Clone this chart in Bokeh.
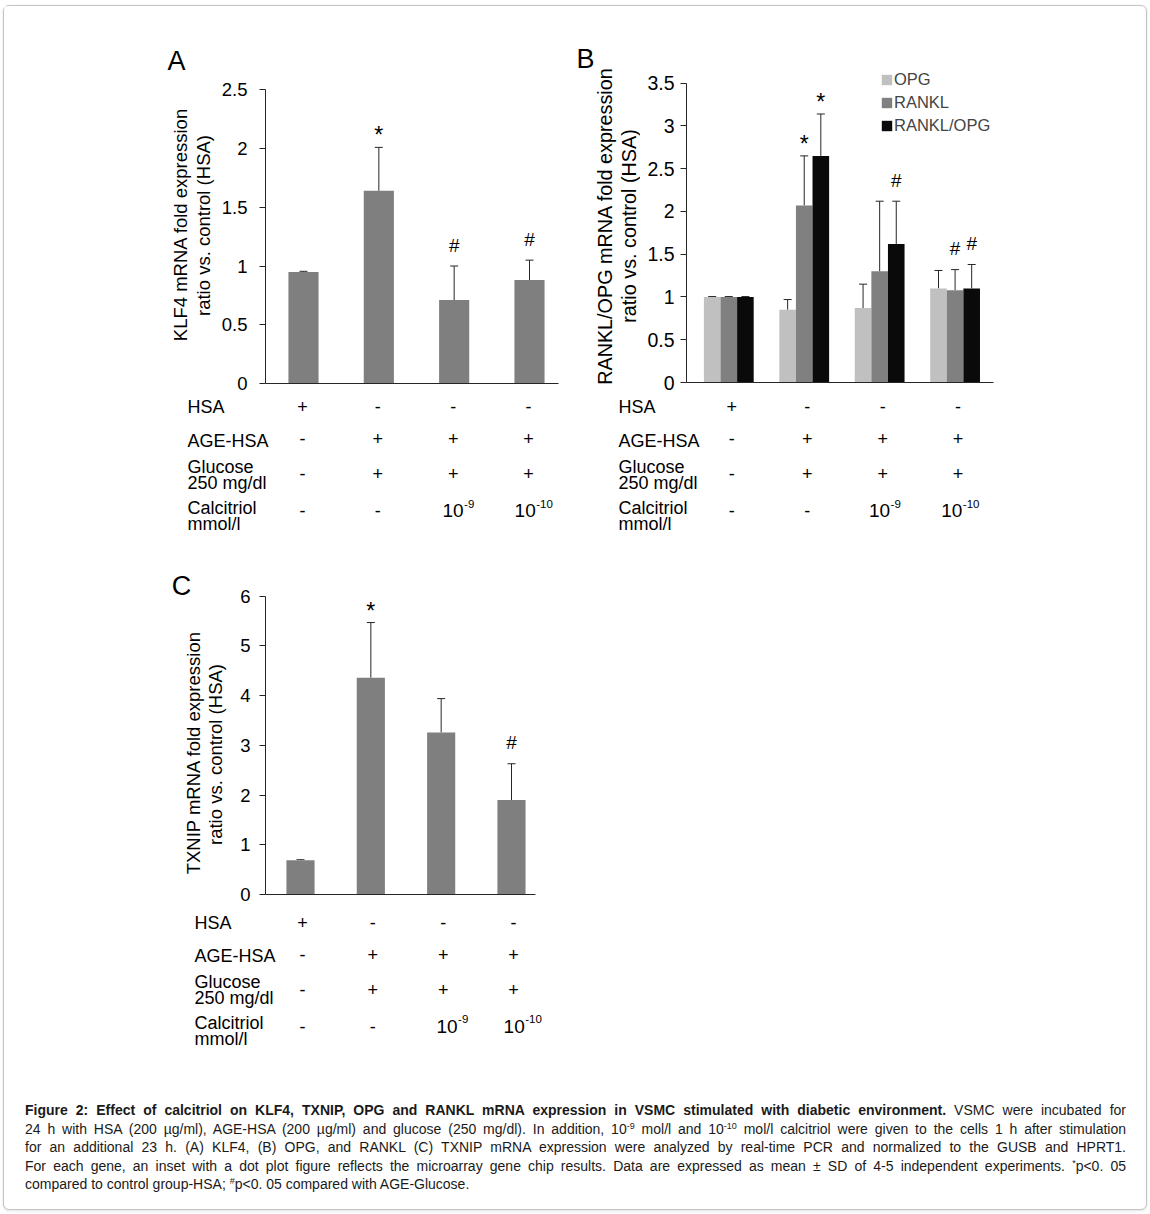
import numpy as np
from bokeh.plotting import figure
from bokeh.models import (ColumnDataSource, Whisker, TeeHead, FixedTicker,
                          CustomJSTickFormatter, Legend, LegendItem, Div, Spacer)
from bokeh.layouts import column, row
from bokeh.embed import file_html
from bokeh.resources import INLINE
from bokeh.core.properties import value

# ---------------- data ----------------
conditions = ["HSA", "AGE-HSA", "Glucose\n250 mg/dl", "Calcitriol\nmmol/l"]
hsa_row = ["+", "-", "-", "-"]
age_row = ["-", "+", "+", "+"]
glucose_row = ["-", "+", "+", "+"]
calcitriol_base = ["-", "-", "10", "10"]
calcitriol_exp = ["", "", "-9", "-10"]

klf4_mean = [0.95, 1.64, 0.71, 0.88]
klf4_sd = [0.005, 0.37, 0.29, 0.17]
klf4_sig = ["", "*", "#", "#"]

series_b = ["OPG", "RANKL", "RANKL/OPG"]
opg_mean = [1.00, 0.85, 0.87, 1.10]
opg_sd = [0.005, 0.12, 0.28, 0.21]
opg_sig = ["", "", "", ""]
rankl_mean = [1.00, 2.07, 1.30, 1.08]
rankl_sd = [0.005, 0.58, 0.82, 0.24]
rankl_sig = ["", "*", "", "#"]
ratio_mean = [1.00, 2.65, 1.62, 1.10]
ratio_sd = [0.005, 0.49, 0.50, 0.28]
ratio_sig = ["", "*", "#", "#"]

txnip_mean = [0.69, 4.36, 3.26, 1.90]
txnip_sd = [0.01, 1.11, 0.68, 0.73]
txnip_sig = ["", "*", "", "#"]

y_ticks_a = [0, 0.5, 1, 1.5, 2, 2.5]
y_ticks_b = [0, 0.5, 1, 1.5, 2, 2.5, 3, 3.5]
y_ticks_c = [0, 1, 2, 3, 4, 5, 6]

ylabel_a = ["KLF4 mRNA fold expression", "ratio vs. control (HSA)"]
ylabel_b = ["RANKL/OPG mRNA fold expression", "ratio vs. control (HSA)"]
ylabel_c = ["TXNIP mRNA fold expression", "ratio vs. control (HSA)"]

# ---------------- style ----------------
FONT = "Liberation Sans"
AXIS_COLOR = "#262626"
ERR_COLOR = "#262626"
BAR_GRAY = "#7f7f7f"
SERIES_COLORS = ["#c0c0c0", "#808080", "#0a0a0a"]
OX, OY = 4, 6   # where the bordered box content starts on the page


def no_align(p):
    if hasattr(p, "frame_align"):
        p.frame_align = False


class Panel:
    """Bar chart whose frame is placed at exact page pixels."""

    def __init__(self, box, frame, c0, step, ytop, ytop_px, ticks, tick_size, standoff):
        left, top, right, bottom = box
        fl, fr, ft, fb = frame
        self.c0, self.step = c0, step
        self.k = (fb - ytop_px) / ytop
        p = figure(width=right - left, height=bottom - top,
                   x_range=((fl - c0) / step, (fr - c0) / step),
                   y_range=(0, (fb - ft) / self.k),
                   output_backend="svg", toolbar_location=None,
                   min_border_left=fl - left, min_border_right=right - fr,
                   min_border_top=ft - top, min_border_bottom=bottom - fb)
        no_align(p)
        p.outline_line_color = None
        p.grid.visible = False
        p.background_fill_color = "white"
        p.border_fill_color = "white"
        ya = p.yaxis[0]
        ya.ticker = FixedTicker(ticks=ticks)
        ya.bounds = (0, ticks[-1])
        ya.formatter = CustomJSTickFormatter(code="return String(tick)")
        ya.major_tick_in = 0
        ya.major_tick_out = 6
        ya.minor_tick_line_color = None
        ya.axis_line_color = AXIS_COLOR
        ya.major_tick_line_color = AXIS_COLOR
        ya.major_label_text_font = FONT
        ya.major_label_text_font_size = f"{tick_size}px"
        ya.major_label_text_color = "black"
        ya.major_label_standoff = standoff
        xa = p.xaxis[0]
        xa.ticker = FixedTicker(ticks=[])
        xa.major_label_text_font_size = "0px"
        xa.major_tick_line_color = None
        xa.minor_tick_line_color = None
        xa.major_tick_out = 0
        xa.major_label_standoff = 0
        xa.axis_line_color = AXIS_COLOR
        self.p = p

    def cx(self, i):
        return self.c0 + i * self.step

    def dy(self, dpx):
        return dpx / self.k

    def bars(self, mean, sd, sig, offset, width, color):
        xs = np.arange(len(mean)) + offset
        upper = np.array(mean) + np.array(sd)
        sig_y = [u + self.dy(12 if s == "*" else 21) for u, s in zip(upper, sig)]
        src = ColumnDataSource(dict(x=xs, top=mean, upper=upper, sig=sig, sig_y=sig_y))
        r = self.p.vbar(x="x", top="top", bottom=0, width=width, source=src,
                        fill_color=color, line_color=None)
        self.p.add_layout(Whisker(source=src, base="x", upper="upper", lower="top",
                                  lower_head=None,
                                  upper_head=TeeHead(size=8, line_color=ERR_COLOR, line_width=1),
                                  line_color=ERR_COLOR, line_width=1))
        stars = [s if s == "*" else "" for s in sig]
        hashes = [s if s == "#" else "" for s in sig]
        src2 = ColumnDataSource(dict(x=xs, y=sig_y, star=stars, hash=hashes))
        self.p.text(x="x", y="y", text="star", source=src2, text_font=value(FONT),
                    text_font_size="23px", text_align="center", text_baseline="middle",
                    text_color="black")
        self.p.text(x="x", y="y", text="hash", source=src2, text_font=value(FONT),
                    text_font_size="19px", text_align="center", text_baseline="middle",
                    text_color="black")
        return r


class TextFig:
    """Axis-less figure whose coordinates are page pixels (y negated)."""

    def __init__(self, left, top, right, bottom):
        p = figure(width=right - left, height=bottom - top,
                   x_range=(left, right), y_range=(-bottom, -top),
                   output_backend="svg", toolbar_location=None,
                   x_axis_location=None, y_axis_location=None, min_border=0)
        no_align(p)
        p.outline_line_color = None
        p.grid.visible = False
        p.background_fill_color = "white"
        p.border_fill_color = "white"
        self.p = p

    def add(self, px, py, text, size, align="left", angle=0.0):
        self.p.text(x=[px], y=[-py], text=[text], angle=angle, text_font=value(FONT),
                    text_font_size=f"{size}px", text_align=align,
                    text_baseline="middle", text_color="black")

    def ylabel(self, lines, xs_px, ys_px, size=18.5):
        for t, xp, yp in zip(lines, xs_px, ys_px):
            self.add(xp, yp, t, size, "center", angle=np.pi / 2)

    def table(self, panel, label_px, base, col_shift, calc_shift):
        lab_off = [[23.5], [57], [83, 99], [124, 140]]
        sym_off = [23, 55, 90, 127]
        sym_rows = [hsa_row, age_row, glucose_row]
        for r, cond in enumerate(conditions):
            for line, off in zip(cond.split("\n"), lab_off[r]):
                self.add(label_px, base + off, line, 18, "left")
        for r, srow in enumerate(sym_rows):
            for i, s in enumerate(srow):
                self.add(panel.cx(i) + col_shift, base + sym_off[r], s, 18, "center")
        yc = base + sym_off[3]
        for i, (b, e) in enumerate(zip(calcitriol_base, calcitriol_exp)):
            if e == "":
                self.add(panel.cx(i) + col_shift, yc, b, 18, "center")
            else:
                w10 = 1.112 * 19
                wsup = (0.333 + 0.556 * (len(e) - 1)) * 11.5
                left = panel.cx(i) - (w10 + wsup) / 2 + calc_shift
                self.add(left, yc, b, 19, "left")
                self.add(left + w10 + 0.5, yc - 7, e, 11.5, "left")


# ---------------- panel A ----------------
A = Panel(box=(218, OY, 575, 396), frame=(265, 558, 60, 383), c0=303, step=75.33,
          ytop=2.5, ytop_px=89.3, ticks=y_ticks_a, tick_size=18.5, standoff=12)
A.bars(klf4_mean, klf4_sd, klf4_sig, 0.0, 0.40, BAR_GRAY)
A_left = TextFig(OX, OY, 218, 396)
A_left.ylabel(ylabel_a, [180, 203], [224, 225])
A_left.add(176, 60, "A", 27, "center")
A_tab = TextFig(OX, 396, 575, 545)
A_tab.table(A, 187, 383, -1, 4)

# ---------------- panel B ----------------
B = Panel(box=(640, OY, 1010, 396), frame=(686, 993, 60, 382), c0=728.3, step=75.43,
          ytop=3.5, ytop_px=82.7, ticks=y_ticks_b, tick_size=19.5, standoff=6)
rb = []
for mean, sd, sig, off, col in zip([opg_mean, rankl_mean, ratio_mean],
                                   [opg_sd, rankl_sd, ratio_sd],
                                   [opg_sig, rankl_sig, ratio_sig],
                                   [-0.22, 0.0, 0.22], SERIES_COLORS):
    rb.append(B.bars(mean, sd, sig, off, 0.22, col))
legend = Legend(items=[LegendItem(label=n, renderers=[r]) for n, r in zip(series_b, rb)],
                location=(194, 247), glyph_width=13, glyph_height=13, label_standoff=1,
                spacing=4, padding=0, margin=0, label_height=18,
                label_text_font=FONT, label_text_font_size="16.5px",
                border_line_color=None, background_fill_alpha=0)
B.p.add_layout(legend)
B_left = TextFig(575, OY, 640, 396)
B_left.ylabel(ylabel_b, [604, 628], [225.5, 225.5], size=19.8)
B_left.add(585, 58, "B", 27, "center")
B_tab = TextFig(575, 396, 1010, 545)
B_tab.table(B, 618, 383, 3, 5)

# ---------------- panel C ----------------
C = Panel(box=(232, 545, 575, 908), frame=(265, 535, 570, 894), c0=300, step=70.33,
          ytop=6, ytop_px=595.7, ticks=y_ticks_c, tick_size=18.5, standoff=9)
C.bars(txnip_mean, txnip_sd, txnip_sig, 0.0, 0.40, BAR_GRAY)
C_left = TextFig(OX, 545, 232, 908)
C_left.ylabel(ylabel_c, [193, 215], [752, 754])
C_left.add(181, 585, "C", 27, "center")
C_tab = TextFig(OX, 908, 575, 1096)
C_tab.table(C, 194, 898.5, 2, 11)

# ---------------- caption ----------------
sup = "<sup style='font-size:9px;vertical-align:5px;line-height:0;'>{}</sup>"
just = "text-align:justify;text-align-last:justify;white-space:nowrap;"
cap_lines = [
    "<b>Figure 2: Effect of calcitriol on KLF4, TXNIP, OPG and RANKL mRNA expression in VSMC "
    "stimulated with diabetic environment.</b> VSMC were incubated for",
    "24 h with HSA (200 &micro;g/ml), AGE-HSA (200 &micro;g/ml) and glucose (250 mg/dl). In addition, 10"
    + sup.format("-9") + " mol/l and 10" + sup.format("-10")
    + " mol/l calcitriol were given to the cells 1 h after stimulation",
    "for an additional 23 h. (A) KLF4, (B) OPG, and RANKL (C) TXNIP mRNA expression were analyzed "
    "by real-time PCR and normalized to the GUSB and HPRT1.",
    "For each gene, an inset with a dot plot figure reflects the microarray gene chip results. "
    "Data are expressed as mean &plusmn; SD of 4-5 independent experiments. "
    + sup.format("*") + "p&lt;0. 05",
    "compared to control group-HSA; " + sup.format("#") + "p&lt;0. 05 compared with AGE-Glucose.",
]
html = ("<div style=\"font-family:'Liberation Sans',Arial,sans-serif;font-size:14px;"
        "line-height:18.5px;color:#1a1a1a;width:1101px;\">")
for i, l in enumerate(cap_lines):
    style = just if i < 4 else "white-space:nowrap;"
    html += f"<div style='{style}'>{l}</div>"
html += "</div>"
caption = Div(text=html, width=1101, height=95)

layout = column(row(A_left.p, A.p, B_left.p, B.p),
                row(A_tab.p, B_tab.p),
                row(C_left.p, C.p),
                C_tab.p,
                row(Spacer(width=16, height=95), caption),
                width=1144, height=1205, margin=(5, 3, 4, 3),
                styles={"border": "1px solid #c4c4c4", "border-radius": "6px",
                        "box-shadow": "0 1px 3px rgba(0,0,0,0.12)",
                        "box-sizing": "border-box", "background": "#ffffff"})

open("out.html", "w").write(file_html(layout, INLINE))
